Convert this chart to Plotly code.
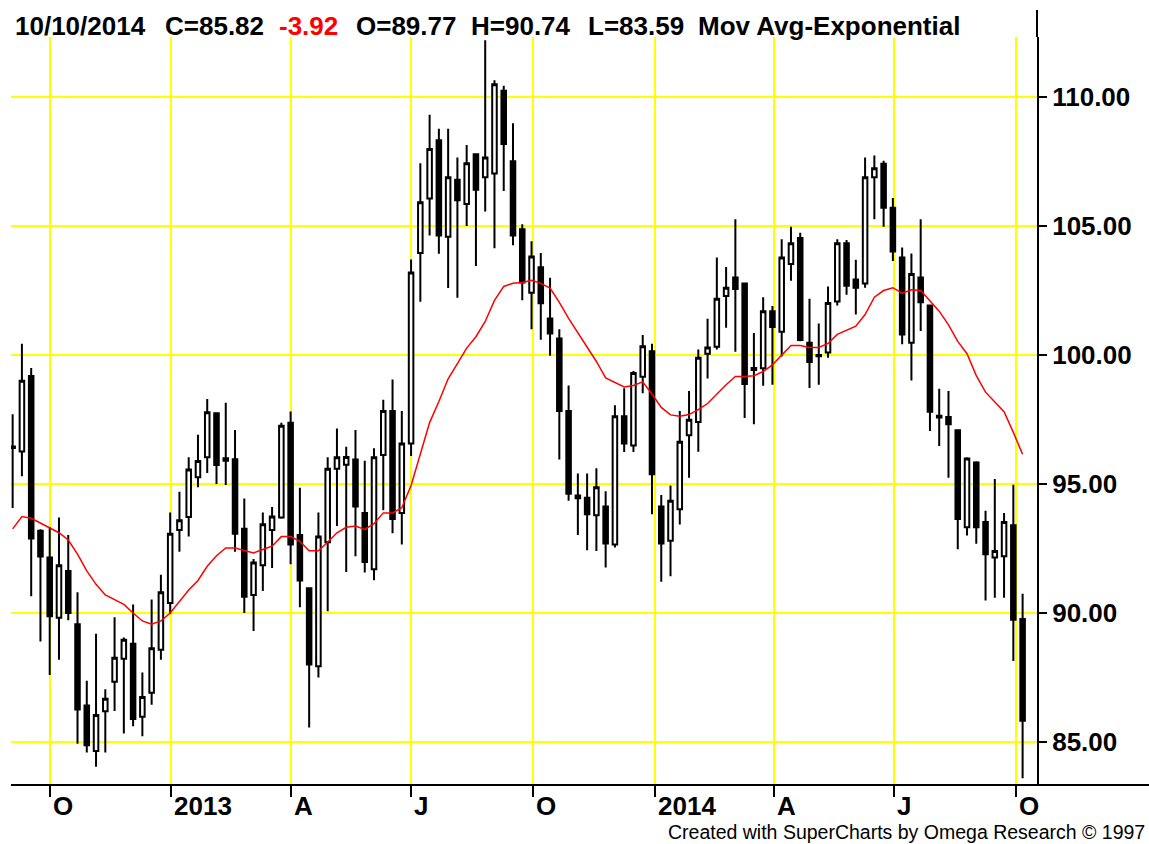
import plotly.graph_objects as go
import pandas as pd

# Weekly bars (week start dates)
dates = pd.date_range("2012-09-03", periods=110, freq="7D")

opens = [96.45, 96.26, 99.19, 93.19, 92.15, 89.81, 91.63, 89.56, 86.41, 84.65,
         86.19, 87.33, 88.22, 88.81, 85.98, 86.91, 88.57, 90.39, 93.22, 93.72,
         95.26, 96.04, 97.74, 96.00, 95.96, 93.26, 90.70, 91.85, 93.22, 93.70,
         97.37, 93.02, 90.96, 87.93, 92.74, 95.59, 95.75, 95.95, 93.88, 91.69,
         96.12, 97.83, 93.88, 96.57, 103.96, 106.07, 108.33, 104.59, 106.80, 105.86,
         107.78, 106.89, 107.04, 110.25, 107.51, 104.88, 102.41, 103.40, 101.42, 100.64,
         97.83, 94.55, 94.47, 93.79, 94.13, 92.65, 97.63, 96.49, 99.16, 100.15,
         94.13, 92.80, 94.02, 96.89, 97.40, 100.05, 100.32, 102.29, 103.01, 102.77,
         99.50, 99.49, 101.70, 100.90, 103.53, 104.54, 100.48, 99.95, 100.10, 102.08,
         104.33, 102.93, 102.77, 106.89, 107.42, 105.71, 103.78, 100.48, 103.01, 101.92,
         97.65, 97.60, 97.08, 93.32, 95.83, 93.53, 92.15, 92.20, 93.40, 89.77]

highs = [97.70, 100.44, 99.50, 93.25, 93.33, 93.70, 93.02, 90.80, 87.37, 89.19,
         87.04, 89.83, 89.05, 90.33, 87.69, 90.52, 91.48, 93.89, 94.70, 96.04,
         96.91, 98.30, 97.78, 98.15, 97.09, 94.44, 92.09, 93.89, 94.11, 97.37,
         97.81, 94.85, 91.00, 93.89, 96.04, 97.15, 96.44, 97.09, 95.90, 96.39,
         98.27, 99.05, 97.83, 103.70, 107.44, 109.32, 108.77, 108.77, 107.66, 108.14,
         107.80, 112.20, 110.65, 110.44, 108.99, 105.07, 104.41, 103.96, 103.00, 101.00,
         98.82, 95.41, 95.41, 95.61, 94.72, 98.05, 98.71, 99.38, 100.78, 100.44,
         94.57, 94.94, 97.83, 98.61, 100.21, 101.41, 103.78, 103.41, 105.26, 102.80,
         100.85, 102.24, 101.90, 104.49, 104.97, 104.74, 102.18, 101.22, 102.66, 104.49,
         104.46, 103.69, 107.66, 107.74, 107.53, 106.09, 104.17, 103.94, 105.26, 101.95,
         98.69, 98.61, 97.10, 96.04, 95.88, 93.96, 95.19, 93.88, 94.97, 90.74]

lows = [94.07, 95.30, 90.65, 88.89, 87.59, 88.19, 89.72, 84.93, 84.59, 84.04,
        84.59, 86.20, 85.33, 85.61, 85.22, 86.44, 88.19, 89.96, 92.37, 92.96,
        94.87, 95.43, 95.00, 94.96, 92.37, 90.00, 89.30, 90.85, 91.74, 93.65,
        91.89, 90.22, 85.56, 87.50, 90.07, 93.37, 91.59, 92.20, 91.57, 91.27,
        93.98, 93.09, 92.65, 96.09, 102.07, 104.63, 103.93, 102.60, 102.22, 105.00,
        103.45, 105.56, 104.14, 106.36, 104.26, 102.12, 101.00, 100.59, 99.97, 95.95,
        94.35, 93.02, 92.43, 92.40, 91.76, 92.54, 96.24, 96.24, 98.52, 93.83,
        91.21, 91.42, 93.43, 95.24, 96.25, 99.09, 100.21, 101.06, 100.13, 97.56,
        97.32, 98.81, 98.85, 99.94, 102.88, 100.53, 98.72, 98.85, 99.89, 101.92,
        102.34, 101.57, 102.61, 105.26, 104.97, 103.65, 100.42, 99.01, 100.93, 97.05,
        96.47, 95.24, 92.47, 93.00, 92.68, 90.48, 90.59, 90.59, 88.14, 83.59]

closes = [96.40, 99.00, 92.89, 92.19, 89.87, 91.85, 90.00, 86.26, 84.87, 86.04,
          86.67, 88.26, 88.96, 85.89, 86.74, 88.63, 90.80, 93.07, 93.59, 95.56,
          95.89, 97.78, 95.74, 95.90, 93.07, 90.63, 91.96, 93.44, 93.74, 97.26,
          92.65, 91.26, 88.00, 92.96, 95.59, 96.04, 96.05, 94.13, 91.98, 96.04,
          97.83, 93.64, 96.57, 103.20, 105.92, 107.99, 104.63, 106.89, 106.00, 107.44,
          106.41, 107.66, 110.50, 108.18, 104.63, 102.81, 103.82, 102.01, 100.83, 97.83,
          94.62, 94.45, 93.83, 94.87, 92.69, 97.63, 96.57, 99.30, 100.34, 95.38,
          92.69, 94.35, 96.64, 97.49, 99.89, 100.29, 102.18, 102.61, 102.56, 98.88,
          99.42, 101.70, 101.09, 103.78, 104.33, 100.58, 99.73, 100.00, 102.02, 104.33,
          102.69, 102.61, 106.89, 107.24, 105.71, 104.01, 100.80, 103.14, 102.05, 97.80,
          97.58, 97.32, 93.64, 95.99, 93.32, 92.28, 92.40, 93.53, 89.74, 85.82]

ema = [93.26, 93.74, 93.67, 93.48, 93.30, 93.11, 92.83, 92.28, 91.63, 91.11,
       90.70, 90.52, 90.33, 90.00, 89.69, 89.56, 89.69, 90.00, 90.43, 90.89,
       91.26, 91.81, 92.22, 92.52, 92.52, 92.41, 92.33, 92.46, 92.59, 92.96,
       92.96, 92.78, 92.41, 92.41, 92.74, 93.11, 93.32, 93.37, 93.24, 93.46,
       93.88, 93.88, 94.08, 94.94, 96.12, 97.38, 98.20, 99.08, 99.67, 100.27,
       100.71, 101.30, 102.12, 102.66, 102.78, 102.81, 102.90, 102.78, 102.60, 102.04,
       101.42, 100.86, 100.27, 99.75, 99.11, 98.93, 98.76, 98.82, 98.96, 98.49,
       97.97, 97.68, 97.63, 97.69, 97.88, 98.12, 98.49, 98.85, 99.17, 99.17,
       99.20, 99.36, 99.62, 100.00, 100.37, 100.37, 100.29, 100.29, 100.45, 100.80,
       100.96, 101.12, 101.57, 102.24, 102.50, 102.61, 102.40, 102.53, 102.50, 102.08,
       101.70, 101.17, 100.53, 100.05, 99.20, 98.56, 98.17, 97.80, 97.00, 96.15]

quarter_ticks = ["2012-10-01", "2013-01-01", "2013-04-01", "2013-07-01", "2013-10-01",
                 "2014-01-01", "2014-04-01", "2014-07-01", "2014-10-01"]
quarter_labels = ["O", "2013", "A", "J", "O", "2014", "A", "J", "O"]

price_ticks = [85, 90, 95, 100, 105, 110]
price_labels = ["85.00", "90.00", "95.00", "100.00", "105.00", "110.00"]

header_items = ["10/10/2014", "C=85.82", "-3.92", "O=89.77", "H=90.74", "L=83.59",
                "Mov Avg-Exponential"]
header_colors = ["black", "black", "#FF0000", "black", "black", "black", "black"]
header_px = [13, 163, 277, 354, 469, 586, 696]   # left edge of each header item

FONT = "Liberation Sans, Arial, sans-serif"

fig = go.Figure()
fig.add_trace(go.Candlestick(
    x=dates, open=opens, high=highs, low=lows, close=closes,
    increasing=dict(line=dict(color="black", width=2), fillcolor="white"),
    decreasing=dict(line=dict(color="black", width=2), fillcolor="black"),
    whiskerwidth=0, showlegend=False, hoverinfo="skip"))
fig.add_trace(go.Scatter(x=dates, y=ema, mode="lines",
                         line=dict(color="#FF0000", width=1.5),
                         showlegend=False, hoverinfo="skip"))

W, H = 1149, 844
ML, MR, MT, MB = 11, 112, 37, 59
plot_h = H - MT - MB
plot_w = W - ML - MR

fig.update_layout(
    width=W, height=H,
    margin=dict(l=ML, r=MR, t=MT, b=MB, pad=0),
    paper_bgcolor="white", plot_bgcolor="white",
    showlegend=False,
    xaxis=dict(
        type="date",
        range=["2012-09-01 18:00", "2014-10-16 21:00"],
        rangeslider=dict(visible=False),
        tickvals=quarter_ticks, ticktext=quarter_labels,
        showticklabels=False,
        ticks="outside", ticklen=11, tickwidth=2, tickcolor="black",
        showgrid=True, gridcolor="#FFFF00", gridwidth=2,
        showline=False, zeroline=False,
    ),
    yaxis=dict(
        side="right",
        range=[83.33, 112.33],
        tickvals=price_ticks, ticktext=price_labels,
        ticks="outside", ticklen=8, tickwidth=2, tickcolor="black",
        tickfont=dict(family=FONT, size=26, color="black", weight="bold"),
        showgrid=True, gridcolor="#FFFF00", gridwidth=2,
        showline=True, linecolor="black", linewidth=2,
        zeroline=False,
    ),
)

# bottom axis line spanning to the right edge
fig.add_shape(type="line", xref="paper", yref="paper",
              x0=0, x1=(W - ML) / plot_w, y0=0, y1=0,
              line=dict(color="black", width=2))
# right axis line extends above plot
fig.add_shape(type="line", xref="paper", yref="paper",
              x0=1, x1=1, y0=1, y1=1 + 27 / plot_h,
              line=dict(color="black", width=2))

for d, lab in zip(quarter_ticks, quarter_labels):
    fig.add_annotation(x=d, xref="x", y=0, yref="paper",
                       xanchor="left", yanchor="top", xshift=1, yshift=-4,
                       text=lab, showarrow=False,
                       font=dict(family=FONT, size=26, color="black", weight="bold"))

for txt, col, px in zip(header_items, header_colors, header_px):
    fig.add_annotation(x=(px - ML) / plot_w, xref="paper", y=1, yref="paper",
                       xanchor="left", yanchor="middle", xshift=0, yshift=11,
                       text=txt, showarrow=False,
                       font=dict(family=FONT, size=26, color=col, weight="bold"))

fig.add_annotation(x=(W - 2 - ML) / plot_w, xref="paper", y=0, yref="paper",
                   xanchor="right", yanchor="middle", yshift=-(832 - (H - MB)),
                   text="Created with SuperCharts by Omega Research © 1997",
                   showarrow=False,
                   font=dict(family=FONT, size=19.5, color="black"))

fig.write_html("out.html",
               config={"displayModeBar": False, "staticPlot": True},
               post_script="document.body.style.margin='0';"
                           "document.body.style.padding='0';"
                           "document.body.style.overflow='hidden';")
